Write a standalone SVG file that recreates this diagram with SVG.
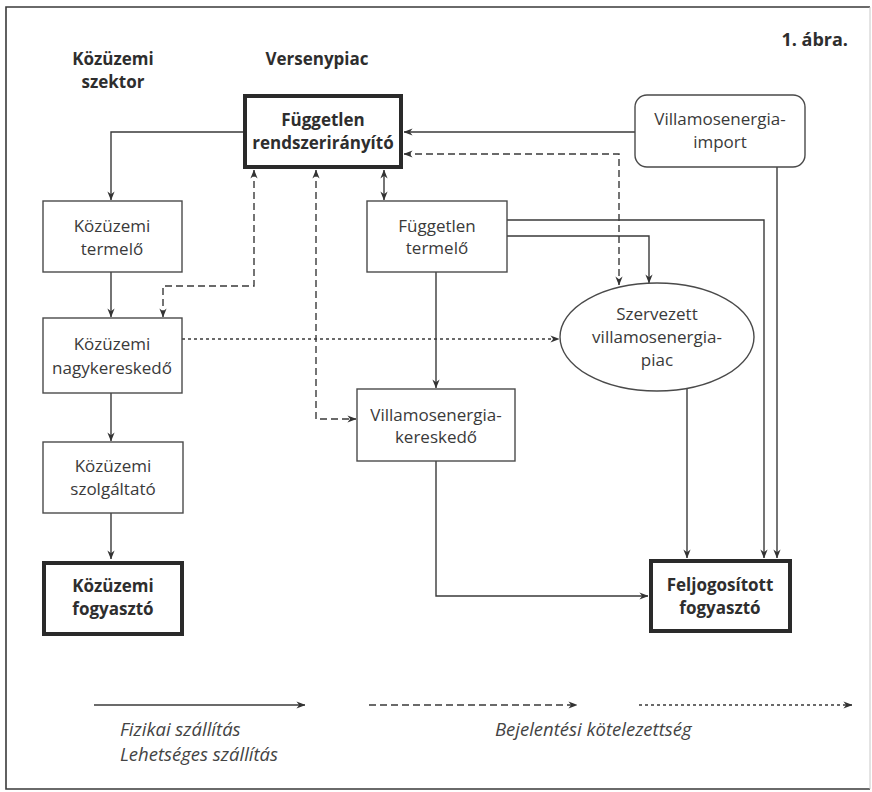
<svg xmlns="http://www.w3.org/2000/svg" width="872" height="792" viewBox="0 0 872 792">
  <defs>
    <style>
      text { font-family: "Open Sans", "Noto Sans", "Liberation Sans", sans-serif; fill: #3a3a3a; font-size: 17px; text-anchor: middle; }
      .b { font-weight: bold; fill: #2e2e2e; }
      .it { font-style: italic; text-anchor: start; font-size: 18.5px; fill: #444; }
      .box { fill: #fff; stroke: #4a4a4a; stroke-width: 1.4; }
      .thick { fill: #fff; stroke: #2a2a2a; stroke-width: 4; }
      .ln { fill: none; stroke: #3a3a3a; stroke-width: 1.4; }
      .dash { stroke-dasharray: 7 4; }
      .dot { stroke-dasharray: 3 3; }
    </style>
    <marker id="ah" viewBox="0 0 10 8" refX="9.5" refY="4" markerWidth="9" markerHeight="7.5" orient="auto-start-reverse" markerUnits="userSpaceOnUse">
      <path d="M0,0 L10,4 L0,8 L3,4 z" fill="#333"/>
    </marker>
  </defs>

  <rect width="872" height="792" fill="#fff"/>

  <!-- frame -->
  <path d="M870,7 H6 V789 H870" fill="none" stroke="#3a3a3a" stroke-width="1.6"/>
  <path d="M870,7 V789" fill="none" stroke="#c8c8c8" stroke-width="1"/>

  <!-- headings -->
  <g id="headings">
    <text class="b" x="113" y="65">Közüzemi</text>
    <text class="b" x="113" y="88">szektor</text>
    <text class="b" x="317" y="65">Versenypiac</text>
    <text class="b" x="848" y="46" style="text-anchor:end;font-size:18px">1. ábra.</text>
  </g>

  <!-- connectors -->
  <g id="connectors">
    <!-- physical delivery -->
    <path class="ln" d="M243,132 H111 V200" marker-end="url(#ah)"/>
    <path class="ln" d="M635,132 H404" marker-end="url(#ah)"/>
    <path class="ln" d="M777,167 V558" marker-end="url(#ah)"/>
    <path class="ln" d="M384,170 V200" marker-start="url(#ah)" marker-end="url(#ah)"/>
    <path class="ln" d="M507,236 H649 V283" marker-end="url(#ah)"/>
    <path class="ln" d="M507,220 H764 V558" marker-end="url(#ah)"/>
    <path class="ln" d="M436,272 V388" marker-end="url(#ah)"/>
    <path class="ln" d="M436,461 V596 H648" marker-end="url(#ah)"/>
    <path class="ln" d="M687,389 V558" marker-end="url(#ah)"/>
    <path class="ln" d="M111,272 V317" marker-end="url(#ah)"/>
    <path class="ln" d="M111,393 V441" marker-end="url(#ah)"/>
    <path class="ln" d="M111,513 V559" marker-end="url(#ah)"/>
    <!-- reporting obligation -->
    <path class="ln dash" d="M254,170 V286 H163 V317" marker-start="url(#ah)" marker-end="url(#ah)"/>
    <path class="ln dash" d="M316,170 V419 H356" marker-start="url(#ah)" marker-end="url(#ah)"/>
    <path class="ln dash" d="M404,154 H619 V285" marker-start="url(#ah)" marker-end="url(#ah)"/>
    <!-- possible delivery -->
    <path class="ln dot" d="M182,339 H559" marker-end="url(#ah)"/>
  </g>

  <!-- nodes -->
  <g id="rendszeriranyito">
    <rect class="thick" x="245" y="96" width="156" height="71"/>
    <text class="b" x="323" y="126">Független</text>
    <text class="b" x="323" y="149">rendszerirányító</text>
  </g>

  <g id="import">
    <rect class="box" x="635" y="95" width="170" height="72" rx="12"/>
    <text x="720" y="125">Villamosenergia-</text>
    <text x="720" y="148">import</text>
  </g>

  <g id="kozuzemi-termelo">
    <rect class="box" x="43" y="201" width="139" height="71"/>
    <text x="112" y="232">Közüzemi</text>
    <text x="112" y="255">termelő</text>
  </g>

  <g id="kozuzemi-nagykereskedo">
    <rect class="box" x="43" y="318" width="139" height="75"/>
    <text x="112" y="350">Közüzemi</text>
    <text x="112" y="374">nagykereskedő</text>
  </g>

  <g id="kozuzemi-szolgaltato">
    <rect class="box" x="43" y="442" width="140" height="71"/>
    <text x="113" y="472">Közüzemi</text>
    <text x="113" y="495">szolgáltató</text>
  </g>

  <g id="kozuzemi-fogyaszto">
    <rect class="thick" x="44" y="563" width="138" height="71"/>
    <text class="b" x="113" y="592">Közüzemi</text>
    <text class="b" x="113" y="615">fogyasztó</text>
  </g>

  <g id="fuggetlen-termelo">
    <rect class="box" x="367" y="201" width="140" height="71"/>
    <text x="437" y="232">Független</text>
    <text x="437" y="254">termelő</text>
  </g>

  <g id="villamosenergia-kereskedo">
    <rect class="box" x="357" y="389" width="158" height="72"/>
    <text x="436" y="421">Villamosenergia-</text>
    <text x="436" y="443">kereskedő</text>
  </g>

  <g id="szervezett-piac">
    <ellipse class="box" cx="657" cy="337" rx="97" ry="54"/>
    <text x="657" y="320">Szervezett</text>
    <text x="657" y="343">villamosenergia-</text>
    <text x="657" y="366">piac</text>
  </g>

  <g id="feljogositott-fogyaszto">
    <rect class="thick" x="651" y="561" width="139" height="70"/>
    <text class="b" x="720" y="591">Feljogosított</text>
    <text class="b" x="720" y="614">fogyasztó</text>
  </g>

  <!-- legend -->
  <g id="legend">
    <path class="ln" d="M94,705 H305" marker-end="url(#ah)"/>
    <path class="ln dash" d="M369,705 H577" marker-end="url(#ah)"/>
    <path class="ln dot" d="M639,705 H852" marker-end="url(#ah)"/>
    <text class="it" x="120" y="736">Fizikai szállítás</text>
    <text class="it" x="120" y="761">Lehetséges szállítás</text>
    <text class="it" x="495" y="736">Bejelentési kötelezettség</text>
  </g>
</svg>
